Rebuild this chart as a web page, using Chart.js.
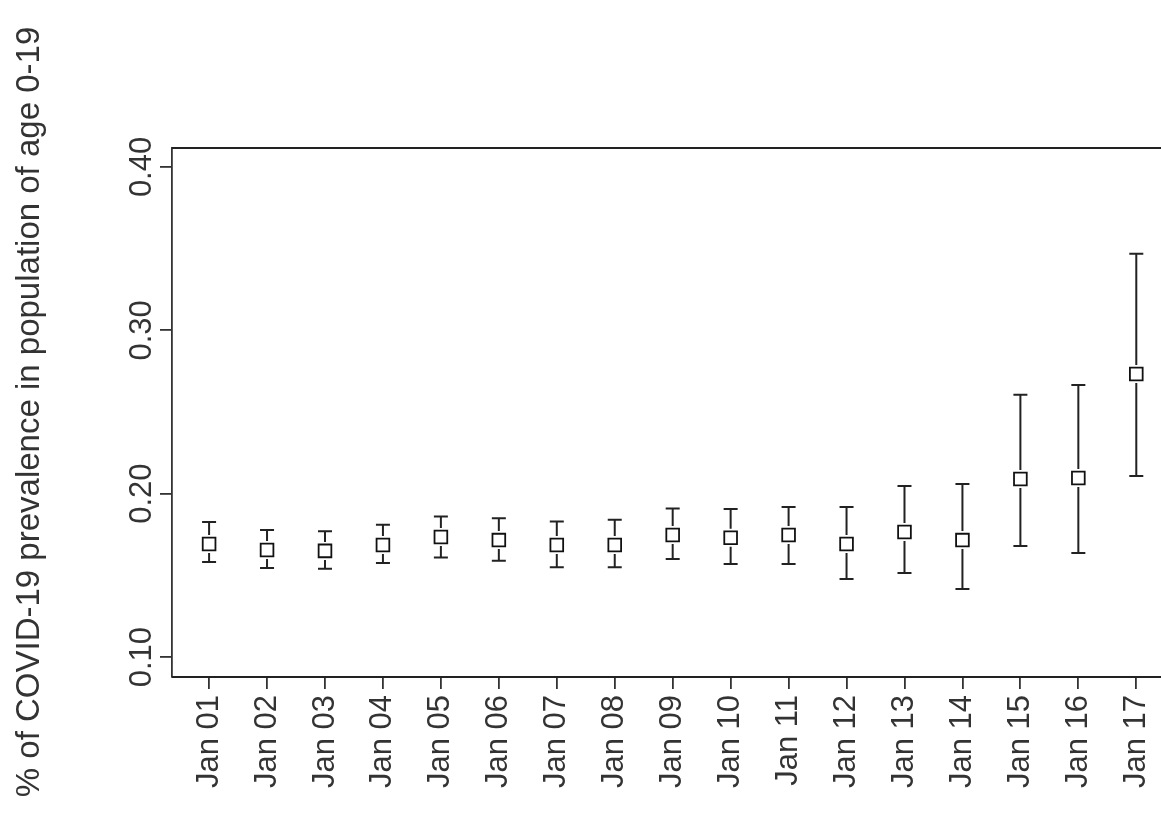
<!DOCTYPE html>
<html>
<head>
<meta charset="utf-8">
<script src="https://cdn.jsdelivr.net/npm/chart.js@4/dist/chart.umd.min.js"></script>
<style>
  html, body { margin: 0; padding: 0; background: #fff; }
  #wrap { width: 1161px; height: 821px; }
</style>
</head>
<body>
<div id="wrap"><canvas id="myChart"></canvas></div>
<script>
const dates = ["Jan 01", "Jan 02", "Jan 03", "Jan 04", "Jan 05", "Jan 06", "Jan 07", "Jan 08", "Jan 09",
  "Jan 10", "Jan 11", "Jan 12", "Jan 13", "Jan 14", "Jan 15", "Jan 16", "Jan 17"];
const prevalence = [0.1692, 0.1655, 0.1650, 0.1686, 0.1735, 0.1716, 0.1686, 0.1686, 0.1747,
  0.1730, 0.1747, 0.1692, 0.1765, 0.1716, 0.2090, 0.2096, 0.2733];
const upper = [0.1827, 0.1778, 0.1770, 0.1810, 0.1860, 0.1850, 0.1830, 0.1840, 0.1910,
  0.1906, 0.1918, 0.1918, 0.2047, 0.2060, 0.2605, 0.2666, 0.3468];
const lower = [0.1582, 0.1545, 0.1540, 0.1576, 0.1610, 0.1590, 0.1550, 0.1550, 0.1600,
  0.1570, 0.1570, 0.1478, 0.1514, 0.1416, 0.1680, 0.1637, 0.2108];
const yTicks = [0.10, 0.20, 0.30, 0.40];
const yTickLabels = ["0.10", "0.20", "0.30", "0.40"];

const font = "Liberation Sans, Arial, sans-serif";

const errorBars = {
  id: "errorBars",
  afterDatasetsDraw(chart) {
    const ctx = chart.ctx, x = chart.scales.x, y = chart.scales.y;
    ctx.save();
    ctx.strokeStyle = "#222";
    ctx.lineWidth = 2;
    prevalence.forEach((v, i) => {
      const px = x.getPixelForValue(i);
      const top = y.getPixelForValue(upper[i]);
      const bot = y.getPixelForValue(lower[i]);
      const mid = y.getPixelForValue(v);
      ctx.beginPath();
      ctx.moveTo(px, top); ctx.lineTo(px, mid - 9);
      ctx.moveTo(px, mid + 9); ctx.lineTo(px, bot);
      ctx.moveTo(px - 7, top); ctx.lineTo(px + 7, top);
      ctx.moveTo(px - 7, bot); ctx.lineTo(px + 7, bot);
      ctx.stroke();
    });
    // top and bottom of the box
    const a = chart.chartArea;
    ctx.lineWidth = 1.8;
    ctx.beginPath();
    ctx.moveTo(a.left, a.top); ctx.lineTo(chart.width, a.top);
    ctx.moveTo(a.left, a.bottom); ctx.lineTo(chart.width, a.bottom);
    ctx.stroke();
    ctx.fillStyle = "#333";
    ctx.font = "31px " + font;
    // rotated x tick labels
    ctx.textAlign = "right";
    ctx.textBaseline = "middle";
    dates.forEach((d, i) => {
      const px = x.getPixelForValue(i);
      ctx.save();
      ctx.translate(px, a.bottom + 18);
      ctx.rotate(-Math.PI / 2);
      ctx.fillText(d, 0, 0);
      ctx.restore();
    });
    // rotated y tick labels
    ctx.textAlign = "center";
    ctx.textBaseline = "bottom";
    yTicks.forEach((t, i) => {
      const py = y.getPixelForValue(t);
      ctx.save();
      ctx.translate(a.left - 14, py);
      ctx.rotate(-Math.PI / 2);
      ctx.fillText(yTickLabels[i], 0, 0);
      ctx.restore();
    });
    // y title
    ctx.save();
    ctx.translate(46, 412);
    ctx.rotate(-Math.PI / 2);
    ctx.font = "33px " + font;
    ctx.fillText("% of COVID-19 prevalence in population of age 0-19", 0, 0);
    ctx.restore();
    ctx.restore();
  }
};

const ctx = document.getElementById("myChart").getContext("2d");
const myChart = new Chart(ctx, {
  type: "scatter",
  data: {
    datasets: [{
      data: prevalence.map((v, i) => ({ x: i, y: v })),
      pointStyle: "rect",
      pointRadius: 9,
      pointBorderWidth: 1.8,
      pointBackgroundColor: "rgba(255,255,255,0)",
      pointBorderColor: "#111"
    }]
  },
  options: {
    responsive: true,
    maintainAspectRatio: false,
    animation: false,
    events: [],
    layout: { padding: { top: 148, right: 0, left: 0, bottom: 0 } },
    plugins: { legend: { display: false }, tooltip: { enabled: false } },
    scales: {
      x: {
        type: "linear",
        min: -0.64,
        max: 16.24,
        afterBuildTicks(scale) { scale.ticks = dates.map((d, i) => ({ value: i })); },
        afterFit(scale) { scale.height = 144; },
        ticks: { display: false },
        grid: { drawOnChartArea: false, tickLength: 12, color: "#333", lineWidth: 1.8 },
        border: { display: false }
      },
      y: {
        min: 0.0878,
        max: 0.4116,
        afterBuildTicks(scale) { scale.ticks = yTicks.map(v => ({ value: v })); },
        afterFit(scale) { scale.width = 172; },
        ticks: { display: false },
        grid: { drawOnChartArea: false, tickLength: 12, color: "#333", lineWidth: 1.8 },
        border: { color: "#333", width: 1.8 }
      }
    }
  },
  plugins: [errorBars]
});
</script>
</body>
</html>
